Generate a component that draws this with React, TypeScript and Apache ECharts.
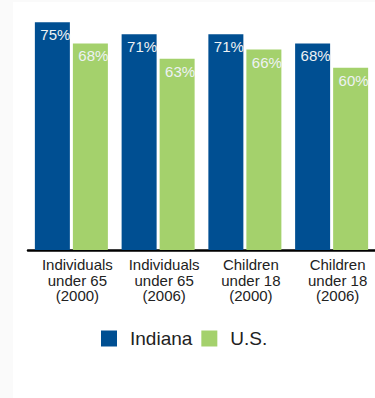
import React, { useEffect, useRef } from "react";
import * as echarts from "echarts";

const categories = [
  "Individuals\nunder 65\n(2000)",
  "Individuals\nunder 65\n(2006)",
  "Children\nunder 18\n(2000)",
  "Children\nunder 18\n(2006)",
];
const indiana = [75, 71, 71, 68];
const us = [68, 63, 66, 60];

export default function App() {
  const ref = useRef<HTMLDivElement>(null);
  useEffect(() => {
    document.body.style.margin = "0";
    const chart = echarts.init(ref.current!, null, { renderer: "svg" });
    const font = "Liberation Sans";
    const label = {
      show: true,
      position: "insideTop",
      distance: 5,
      offset: [3, 0],
      formatter: "{c}%",
      color: "#eef2f4",
      fontFamily: font,
      fontSize: 15,
    };
    chart.setOption({
      animation: false,
      backgroundColor: "#fafafa",
      graphic: [
        {
          type: "rect",
          z: -10,
          shape: { x: 13, y: 2, width: 362, height: 396 },
          style: { fill: "#ffffff" },
        },
      ],
      grid: { left: 28, top: 7, width: 348, height: 243 },
      legend: {
        left: 101,
        top: 329,
        padding: 0,
        itemWidth: 16,
        itemHeight: 16,
        itemGap: 9,
        icon: "rect",
        textStyle: {
          fontFamily: font,
          fontSize: 19,
          color: "#222",
          lineHeight: 16,
          padding: [0, 0, 0, 8],
        },
        data: ["Indiana", "U.S."],
      },
      xAxis: {
        type: "category",
        data: categories,
        axisLine: { show: true, lineStyle: { color: "#000", width: 2.5 } },
        axisTick: { show: false },
        axisLabel: {
          interval: 0,
          margin: 7,
          color: "#222",
          fontFamily: font,
          fontSize: 15,
          lineHeight: 15.5,
          padding: [0, 0, 0, 12],
        },
      },
      yAxis: {
        type: "value",
        min: 0,
        max: 80,
        show: false,
        splitLine: { show: false },
      },
      series: [
        {
          name: "Indiana",
          type: "bar",
          data: indiana,
          barWidth: 35,
          barGap: "8.6%",
          itemStyle: { color: "#004f92" },
          label,
        },
        {
          name: "U.S.",
          type: "bar",
          data: us,
          barWidth: 35,
          barGap: "8.6%",
          itemStyle: { color: "#a4d16c" },
          label,
        },
      ],
    });
    return () => chart.dispose();
  }, []);
  return (
    <div
      ref={ref}
      style={{ position: "absolute", left: 0, top: 0, width: 375, height: 398 }}
    />
  );
}
